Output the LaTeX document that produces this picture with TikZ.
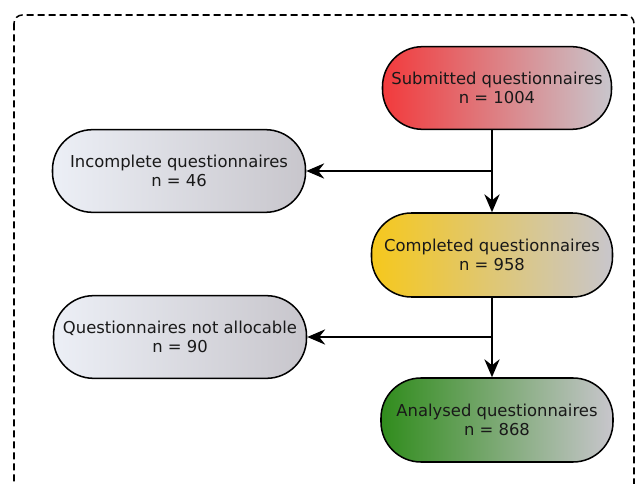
\documentclass[tikz,border=0pt]{standalone}
\usepackage{fontspec}
\setmainfont{DejaVu Sans}
\usetikzlibrary{arrows.meta,positioning}

\definecolor{subred}{RGB}{242,58,60}
\definecolor{compyellow}{RGB}{246,200,28}
\definecolor{anagreen}{RGB}{48,140,28}
\definecolor{exclgray}{RGB}{236,239,246}
\definecolor{fadegray}{RGB}{200,198,204}

\begin{document}
\begin{tikzpicture}[
  x=0.03cm, y=-0.03cm,
  stage/.style={draw, line width=1.3pt, rounded corners=1.2cm, align=center,
    text=black!90, font=\fontsize{14}{16.6}\selectfont, inner sep=0pt,
    minimum height=2.48cm, right color=fadegray},
  excl/.style={stage, left color=exclgray, minimum width=7.59cm},
  flow/.style={-{Stealth[length=5.4mm, width=4.6mm, inset=1.8mm]}, line width=1.3pt}
]
\clip (0,0) rectangle (638,484);

\draw[line width=1.3pt, dash pattern=on 0.21cm off 0.12cm, rounded corners=0.25cm]
  (14,15) rectangle (634,520);

\node[stage, left color=subred, minimum width=6.87cm] (submitted) at (497,88)
  {Submitted questionnaires\\n = 1004};
\node[excl] (incomplete) at (179,171)
  {Incomplete questionnaires\\n = 46};
\node[stage, left color=compyellow, minimum width=7.23cm, minimum height=2.52cm] (completed) at (492,255)
  {Completed questionnaires\\n = 958};
\node[excl] (notalloc) at (180,337)
  {Questionnaires not allocable\\n = 90};
\node[stage, left color=anagreen, minimum width=6.96cm, minimum height=2.52cm] (analysed) at (497,420)
  {Analysed questionnaires\\n = 868};

\draw[flow] (submitted.south -| completed.north) -- (completed.north);
\draw[flow] (incomplete.east -| completed.north) -- (incomplete.east);
\draw[flow] (completed.south) -- (completed.south |- analysed.north);
\draw[flow] (notalloc.east -| completed.south) -- (notalloc.east);
\end{tikzpicture}
\end{document}
